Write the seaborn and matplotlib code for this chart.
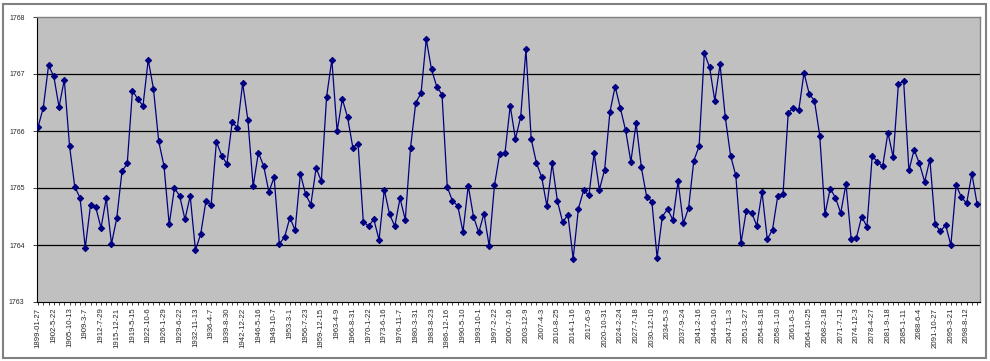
import numpy as np
import pandas as pd
import matplotlib
matplotlib.use("Agg")
import matplotlib.pyplot as plt
import seaborn as sns
from matplotlib.patches import Rectangle

# valores (180 puntos)
valores = [
    1766.07, 1766.41, 1767.15, 1766.96, 1766.42, 1766.90, 1765.74, 1765.02, 1764.83, 1763.95,
    1764.70, 1764.66, 1764.30, 1764.82, 1764.02, 1764.47, 1765.29, 1765.43, 1766.71, 1766.56,
    1766.44, 1767.25, 1766.74, 1765.82, 1765.39, 1764.36, 1765.00, 1764.86, 1764.45, 1764.86,
    1763.91, 1764.19, 1764.77, 1764.71, 1765.81, 1765.57, 1765.42, 1766.15, 1766.06, 1766.84,
    1766.19, 1765.03, 1765.62, 1765.39, 1764.93, 1765.19, 1764.02, 1764.14, 1764.48, 1764.26,
    1765.25, 1764.89, 1764.71, 1765.35, 1765.12, 1766.60, 1767.25, 1766.00, 1766.56, 1766.24,
    1765.71, 1765.78, 1764.41, 1764.33, 1764.45, 1764.09, 1764.97, 1764.54, 1764.33, 1764.82,
    1764.44, 1765.71, 1766.50, 1766.66, 1767.61, 1767.08, 1766.78, 1766.64, 1765.02, 1764.77,
    1764.69, 1764.23, 1765.04, 1764.50, 1764.22, 1764.55, 1763.98, 1765.05, 1765.60, 1765.61,
    1766.44, 1765.86, 1766.25, 1767.43, 1765.86, 1765.44, 1765.19, 1764.68, 1765.43, 1764.77,
    1764.40, 1764.53, 1763.76, 1764.64, 1764.96, 1764.87, 1765.61, 1764.97, 1765.32, 1766.33,
    1766.78, 1766.40, 1766.01, 1765.46, 1766.14, 1765.36, 1764.85, 1764.76, 1763.78, 1764.50,
    1764.63, 1764.44, 1765.12, 1764.38, 1764.65, 1765.48, 1765.73, 1767.37, 1767.12, 1766.53,
    1767.17, 1766.24, 1765.57, 1765.22, 1764.04, 1764.60, 1764.57, 1764.34, 1764.93, 1764.10,
    1764.27, 1764.86, 1764.89, 1766.32, 1766.41, 1766.36, 1767.02, 1766.65, 1766.53, 1765.92,
    1764.54, 1764.99, 1764.83, 1764.56, 1765.07, 1764.10, 1764.13, 1764.50, 1764.32, 1765.56,
    1765.46, 1765.38, 1765.97, 1765.54, 1766.83, 1766.87, 1765.31, 1765.67, 1765.43, 1765.11,
    1765.50, 1764.36, 1764.24, 1764.35, 1764.00, 1765.05, 1764.84, 1764.73, 1765.25, 1764.72,
]

# etiquetas del eje x (una cada 3 puntos)
etiquetas = [
    "1899-01-27", "1902-5-22", "1905-10-13", "1909-3-7", "1912-7-29", "1915-12-21",
    "1919-5-15", "1922-10-6", "1926-1-29", "1929-6-22", "1932-11-13", "1936-4-7",
    "1939-8-30", "1942-12-22", "1946-5-16", "1949-10-7", "1953-3-1", "1956-7-23",
    "1959-12-15", "1963-4-9", "1966-8-31", "1970-1-22", "1973-6-16", "1976-11-7",
    "1980-3-31", "1983-8-23", "1986-12-16", "1990-5-10", "1993-10-1", "1997-2-22",
    "2000-7-16", "2003-12-9", "2007-4-3", "2010-8-25", "2014-1-16", "2017-6-9",
    "2020-10-31", "2024-2-24", "2027-7-18", "2030-12-10", "2034-5-3", "2037-9-24",
    "2041-2-16", "2044-6-10", "2047-11-3", "2051-3-27", "2054-8-18", "2058-1-10",
    "2061-6-3", "2064-10-25", "2068-2-18", "2071-7-12", "2074-12-3", "2078-4-27",
    "2081-9-18", "2085-1-11", "2088-6-4", "2091-10-27", "2095-3-21", "2098-8-12",
]
paso_etiquetas = 3
y_ticks = [1763, 1764, 1765, 1766, 1767, 1768]

df = pd.DataFrame({"pos": np.arange(len(valores)), "valor": valores})

sns.set_style("white")
plt.rcParams['font.family'] = ['Liberation Sans', 'DejaVu Sans']

fig = plt.figure(figsize=(9.9, 3.61), dpi=100)
ax = fig.add_axes([37 / 990, 1 - 302 / 361, (980 - 37) / 990, (302 - 17) / 361])
ax.set_facecolor("#C0C0C0")

for y in y_ticks[1:-1]:
    ax.axhline(y, color="black", lw=0.9, zorder=1)

sns.lineplot(data=df, x="pos", y="valor", ax=ax, color="#000080", lw=0.9,
             marker="D", markersize=3.2, markeredgecolor="#000080", zorder=3)

ax.set_ylim(1763, 1768)
ax.set_xlim(-0.2, len(valores) - 0.45)
ax.set_yticks(y_ticks)
ax.set_yticklabels([str(v) for v in y_ticks], fontsize=5)
ax.set_xticks(np.arange(0, len(etiquetas) * paso_etiquetas, paso_etiquetas))
ax.set_xticklabels(etiquetas, rotation=90, fontsize=5.6)
ax.set_xticks(np.arange(len(valores)), minor=True)
ax.tick_params(axis="x", which="both", length=2, width=0.6, pad=2, direction="out", bottom=True)
ax.tick_params(axis="y", length=3, width=0.6, pad=6, direction="out", left=True)
ax.set_xlabel("")
ax.set_ylabel("")

for lado in ["top", "right"]:
    ax.spines[lado].set_color("#808080")
    ax.spines[lado].set_linewidth(1)
for lado in ["left", "bottom"]:
    ax.spines[lado].set_color("black")
    ax.spines[lado].set_linewidth(0.8)

# marco exterior del gráfico
fig.patches.append(Rectangle((3 / 990, 1 - 358 / 361), 983 / 990, 354 / 361,
                             transform=fig.transFigure, fill=False,
                             edgecolor="#808080", lw=1.5))

fig.savefig("out.png", dpi=100)
